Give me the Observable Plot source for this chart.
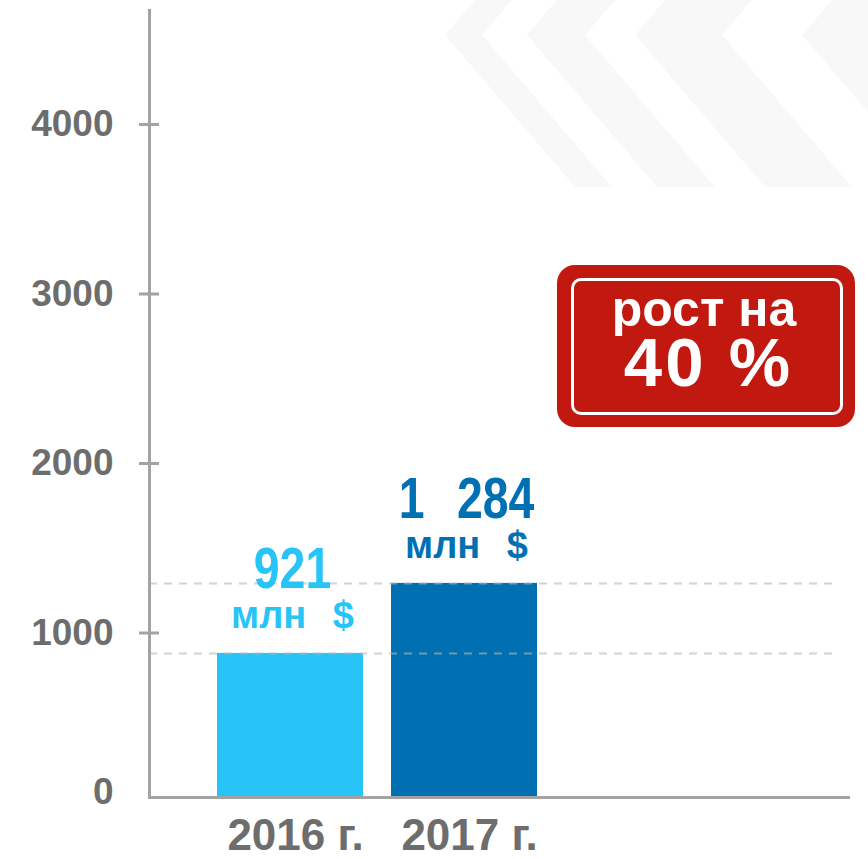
<!DOCTYPE html>
<html><head><meta charset="utf-8">
<script src="https://cdn.jsdelivr.net/npm/d3@7"></script>
<script src="https://cdn.jsdelivr.net/npm/@observablehq/plot@0.6"></script>
<style>
body{margin:0;background:#fff;}
#wrap{position:relative;width:868px;height:859px;overflow:hidden;font-family:"Liberation Sans",Arial,sans-serif;}
#bg{position:absolute;left:0;top:0;}
#chart{position:absolute;left:0;top:0;}
#badge{position:absolute;left:557px;top:265px;width:298px;height:162px;background:#c1190f;border-radius:18px;}
#badge .inner{position:absolute;left:14px;top:13px;width:272px;height:137px;border:3px solid #fff;border-radius:10px;box-sizing:border-box;color:#fff;font-weight:bold;}
#badge .l{position:absolute;left:0;width:100%;text-align:center;line-height:1;white-space:nowrap;}
#badge .l1{top:3px;font-size:50px;left:-3px;}
#badge .l2{top:47px;font-size:69px;letter-spacing:3px;text-indent:3px;}
</style></head><body>
<div id="wrap">
<svg id="bg" width="868" height="859">
  <g fill="#f8f8f8">
    <polygon points="475,0 512,0 482,35 612,187 575,187 445,35"/>
    <polygon points="557,0 615,0 585,35 715,187 657,187 527,35"/>
    <polygon points="665,0 752,0 722,35 852,187 765,187 635,35"/>
    <polygon points="832,0 947,0 917,35 1047,187 932,187 802,35"/>
  </g>
</svg>
<div id="chart"></div>
<div id="badge"><div class="inner"><div class="l l1">рост на</div><div class="l l2">40 %</div></div></div>
</div>
<script>
const years = ["2016 г.", "2017 г."];
const barValues = [850, 1263];
const valueLabels = ["921", "1 284"];
const unitLabel = "млн $";
const yTicks = [0, 1000, 2000, 3000, 4000];
const barColors = ["#27c4f7", "#0070b2"];

const data = years.map((year, i) => ({year, value: barValues[i], label: valueLabels[i], color: barColors[i]}));

const grey = "#a3a3a3";
const textGrey = "#6d6d6d";
const wide = s => s.replace(" ", "\u2002\u2009");

const chart = Plot.plot({
  width: 868,
  height: 859,
  marginLeft: 149,
  marginRight: 18,
  marginTop: 10,
  marginBottom: 62,
  style: {background: "transparent", fontFamily: "Liberation Sans, Arial, sans-serif"},
  x: {domain: years, range: [203, 551], paddingInner: 0.161, paddingOuter: 0.0805, label: null},
  y: {domain: [0, 4643], label: null},
  color: {type: "identity"},
  marks: [
    Plot.barY(data, {x: "year", y: "value", fill: "color"}),
    Plot.ruleY(barValues, {stroke: "#b5b5b5", strokeOpacity: 0.6, strokeWidth: 2, strokeDasharray: "8,7", insetRight: 15}),
    Plot.frame({anchor: "left", stroke: grey, strokeWidth: 3}),
    Plot.ruleY([0], {stroke: grey, strokeWidth: 3}),
    Plot.axisY({ticks: yTicks.filter(d => d > 0), tickSize: 20, dx: 10, tickPadding: 26, dy: 5, label: null,
      fontSize: 37, fontWeight: "bold", fill: textGrey, stroke: grey, strokeWidth: 3, tickFormat: d => String(d)}),
    Plot.axisY({ticks: [0], tickSize: 0, tickPadding: 36, dy: -5, label: null,
      fontSize: 37, fontWeight: "bold", fill: textGrey, tickFormat: d => String(d)}),
    Plot.axisX({tickSize: 0, tickPadding: 21, dx: 5, label: null, fontSize: 44, fontWeight: "bold", fill: textGrey}),
    Plot.text(data, {x: "year", y: "value", text: d => wide(d.label), fill: "color", fontSize: 58, fontWeight: "bold",
      lineAnchor: "bottom", dy: -65, dx: 2, className: "numlabel"}),
    Plot.text(data, {x: "year", y: "value", text: () => wide(unitLabel), fill: "color", fontSize: 38, fontWeight: "bold",
      lineAnchor: "bottom", dy: -25, dx: 2})
  ]
});
document.getElementById("chart").appendChild(chart);

// condense the value numbers horizontally (the reference uses a narrow face)
chart.querySelectorAll("g.numlabel text, .numlabel text").forEach(t => {
  const b = t.getBBox();
  const cx = b.x + b.width / 2;
  const prev = t.getAttribute("transform") || "";
  t.setAttribute("transform", `${prev} translate(${cx},0) scale(0.8,1) translate(${-cx},0)`);
});
</script>
</body></html>
